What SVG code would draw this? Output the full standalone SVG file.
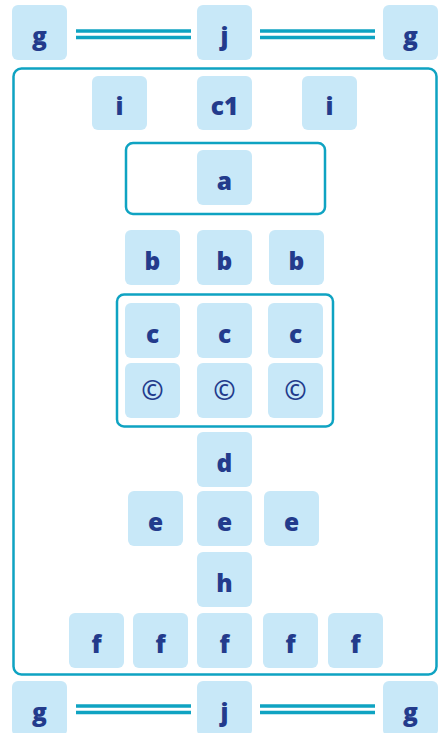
<svg xmlns="http://www.w3.org/2000/svg" width="438" height="733" viewBox="0 0 438 733">
<style>
.box{fill:#c8e8f8;}
.t{font-family:"Open Sans","Liberation Sans",sans-serif;font-weight:800;font-size:24.5px;fill:#233b8c;text-anchor:middle;}
.cp{font-weight:600;font-size:27px;}
.grp{fill:none;stroke:#0fa3c2;stroke-width:2.5;}
.ln{stroke:#0fa3c2;stroke-width:3.5;}
</style>
<rect width="438" height="733" fill="#ffffff"/>
<g id="containers">
<rect id="outer" class="grp" x="13.5" y="68.5" width="423" height="606" rx="8"/>
<rect id="groupA" class="grp" x="126" y="143" width="199" height="71" rx="7"/>
<rect id="groupC" class="grp" x="117" y="294.5" width="216" height="132" rx="7"/>
</g>
<g id="connectors">
<line class="ln" x1="76" y1="31" x2="191" y2="31"/>
<line class="ln" x1="76" y1="37.5" x2="191" y2="37.5"/>
<line class="ln" x1="260" y1="31" x2="375" y2="31"/>
<line class="ln" x1="260" y1="37.5" x2="375" y2="37.5"/>
<line class="ln" x1="76" y1="706" x2="191" y2="706"/>
<line class="ln" x1="76" y1="712.5" x2="191" y2="712.5"/>
<line class="ln" x1="260" y1="706" x2="375" y2="706"/>
<line class="ln" x1="260" y1="712.5" x2="375" y2="712.5"/>
</g>
<g id="g1"><rect class="box" x="12" y="5" width="55" height="55" rx="6"/><text class="t" x="39.5" y="44.5">g</text></g>
<g id="j1"><rect class="box" x="197" y="5" width="55" height="55" rx="6"/><text class="t" x="224.5" y="44.5">j</text></g>
<g id="g2"><rect class="box" x="383" y="5" width="55" height="55" rx="6"/><text class="t" x="410.5" y="44.5">g</text></g>
<g id="i1"><rect class="box" x="92" y="76" width="55" height="54" rx="6"/><text class="t" x="119.5" y="115">i</text></g>
<g id="c1"><rect class="box" x="197" y="76" width="55" height="54" rx="6"/><text class="t" x="224.5" y="115">c1</text></g>
<g id="i2"><rect class="box" x="302" y="76" width="55" height="54" rx="6"/><text class="t" x="329.5" y="115">i</text></g>
<g id="a"><rect class="box" x="197" y="150" width="55" height="55" rx="6"/><text class="t" x="224.5" y="189.5">a</text></g>
<g id="b1"><rect class="box" x="125" y="230" width="55" height="55" rx="6"/><text class="t" x="152.5" y="269.5">b</text></g>
<g id="b2"><rect class="box" x="197" y="230" width="55" height="55" rx="6"/><text class="t" x="224.5" y="269.5">b</text></g>
<g id="b3"><rect class="box" x="269" y="230" width="55" height="55" rx="6"/><text class="t" x="296.5" y="269.5">b</text></g>
<g id="c_1"><rect class="box" x="125" y="303" width="55" height="55" rx="6"/><text class="t" x="152.5" y="342.5">c</text></g>
<g id="c_2"><rect class="box" x="197" y="303" width="55" height="55" rx="6"/><text class="t" x="224.5" y="342.5">c</text></g>
<g id="c_3"><rect class="box" x="268" y="303" width="55" height="55" rx="6"/><text class="t" x="295.5" y="342.5">c</text></g>
<g id="copy1"><rect class="box" x="125" y="363" width="55" height="55" rx="6"/><text class="t cp" x="152.5" y="400">©</text></g>
<g id="copy2"><rect class="box" x="197" y="363" width="55" height="55" rx="6"/><text class="t cp" x="224.5" y="400">©</text></g>
<g id="copy3"><rect class="box" x="268" y="363" width="55" height="55" rx="6"/><text class="t cp" x="295.5" y="400">©</text></g>
<g id="d"><rect class="box" x="197" y="432" width="55" height="55" rx="6"/><text class="t" x="224.5" y="471.5">d</text></g>
<g id="e1"><rect class="box" x="128" y="491" width="55" height="55" rx="6"/><text class="t" x="155.5" y="530.5">e</text></g>
<g id="e2"><rect class="box" x="197" y="491" width="55" height="55" rx="6"/><text class="t" x="224.5" y="530.5">e</text></g>
<g id="e3"><rect class="box" x="264" y="491" width="55" height="55" rx="6"/><text class="t" x="291.5" y="530.5">e</text></g>
<g id="h"><rect class="box" x="197" y="552" width="55" height="55" rx="6"/><text class="t" x="224.5" y="591.5">h</text></g>
<g id="f1"><rect class="box" x="69" y="613" width="55" height="55" rx="6"/><text class="t" x="96.5" y="652.5">f</text></g>
<g id="f2"><rect class="box" x="133" y="613" width="55" height="55" rx="6"/><text class="t" x="160.5" y="652.5">f</text></g>
<g id="f3"><rect class="box" x="197" y="613" width="55" height="55" rx="6"/><text class="t" x="224.5" y="652.5">f</text></g>
<g id="f4"><rect class="box" x="263" y="613" width="55" height="55" rx="6"/><text class="t" x="290.5" y="652.5">f</text></g>
<g id="f5"><rect class="box" x="328" y="613" width="55" height="55" rx="6"/><text class="t" x="355.5" y="652.5">f</text></g>
<g id="g3"><rect class="box" x="12" y="681" width="55" height="55" rx="6"/><text class="t" x="39.5" y="720.5">g</text></g>
<g id="j2"><rect class="box" x="197" y="681" width="55" height="55" rx="6"/><text class="t" x="224.5" y="720.5">j</text></g>
<g id="g4"><rect class="box" x="383" y="681" width="55" height="55" rx="6"/><text class="t" x="410.5" y="720.5">g</text></g>
</svg>
